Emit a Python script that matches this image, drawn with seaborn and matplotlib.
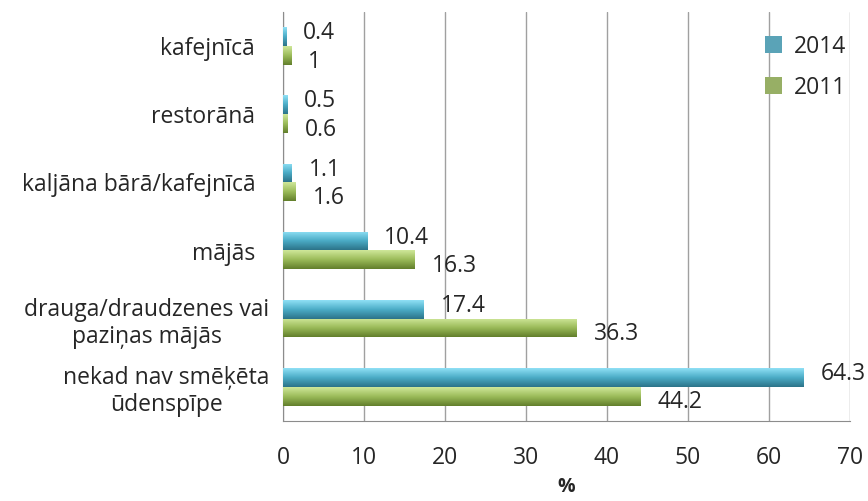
import numpy as np
import pandas as pd
import matplotlib
matplotlib.use("Agg")
import matplotlib.pyplot as plt
import seaborn as sns
from matplotlib.colors import LinearSegmentedColormap

# Data (values in %)
categories = [
    "kafejnīcā",
    "restorānā",
    "kaljāna bārā/kafejnīcā",
    "mājās",
    "drauga/draudzenes vai\npaziņas mājās",
    "nekad nav smēķēta\nūdenspīpe",
]
values_2014 = [0.4, 0.5, 1.1, 10.4, 17.4, 64.3]
values_2011 = [1, 0.6, 1.6, 16.3, 36.3, 44.2]
years = ["2014", "2011"]
x_ticks = [0, 10, 20, 30, 40, 50, 60, 70]

df = pd.DataFrame({
    "vieta": categories * 2,
    "gads": ["2014"] * len(categories) + ["2011"] * len(categories),
    "procenti": values_2014 + values_2011,
})

sns.set_style("white")
plt.rcParams["font.family"] = ["Open Sans", "DejaVu Sans"]
fs = 16.5

palette = {"2014": "#4bacc6", "2011": "#9bbb59"}
fig = plt.figure(figsize=(8.68, 5.01), dpi=100)
ax = fig.add_axes([0.326, 0.160, 0.653, 0.816])

sns.barplot(data=df, y="vieta", x="procenti", hue="gads", hue_order=years,
            order=categories, palette=palette, orient="h", width=0.55,
            ax=ax, zorder=3, edgecolor="none")

# 3D-ish gradient fill on the bars
grads = {
    "2014": LinearSegmentedColormap.from_list("b", ["#8fe0f5", "#4bacc6", "#2c7389"]),
    "2011": LinearSegmentedColormap.from_list("g", ["#cfe79a", "#9bbb59", "#627f2c"]),
}
xlim, ylim = (0, 70), (5.5, -0.5)
for cont, yr in zip(ax.containers, years):
    for p in cont:
        x0, y0, w, h = p.get_x(), p.get_y(), p.get_width(), p.get_height()
        g = np.linspace(0, 1, 64).reshape(-1, 1)
        im = ax.imshow(g, cmap=grads[yr], aspect="auto",
                       extent=(x0, x0 + w, y0 + h, y0), zorder=4,
                       origin="upper", interpolation="bilinear")
        im.set_clip_path(p)
    texts = ax.bar_label(cont, labels=[f"{v:g}" for v in cont.datavalues],
                         padding=12, fontsize=fs, zorder=5)
    # nudge the pair of labels apart a little
    dy = 2.5 if yr == "2014" else -4.5
    for t in texts:
        t.xyann = (12, dy)

ax.set_xlim(*xlim)
ax.set_ylim(*ylim)
ax.set_xticks(x_ticks)
ax.grid(axis="x", color="#a0a0a0", linewidth=1, zorder=0)
for s in ["top", "right"]:
    ax.spines[s].set_visible(False)
ax.spines["left"].set_color("#8c8c8c")
ax.spines["bottom"].set_color("#8c8c8c")
ax.tick_params(axis="x", direction="out", length=9, color="#8c8c8c",
               labelsize=fs, pad=9)
ax.tick_params(axis="y", length=0, labelsize=fs, pad=20)
for t in ax.get_yticklabels():
    t.set_multialignment("center")
    if "\n" in t.get_text():
        t.set_x(0.025)
ax.set_ylabel("")
ax.set_xlabel("%", fontsize=14, fontweight="bold", labelpad=5)

leg = ax.legend(loc="upper right", bbox_to_anchor=(1.03, 0.995), frameon=False,
                fontsize=fs, handlelength=0.75, handleheight=0.75,
                handletextpad=0.5, labelspacing=0.75)

fig.savefig("out.png", dpi=100)
